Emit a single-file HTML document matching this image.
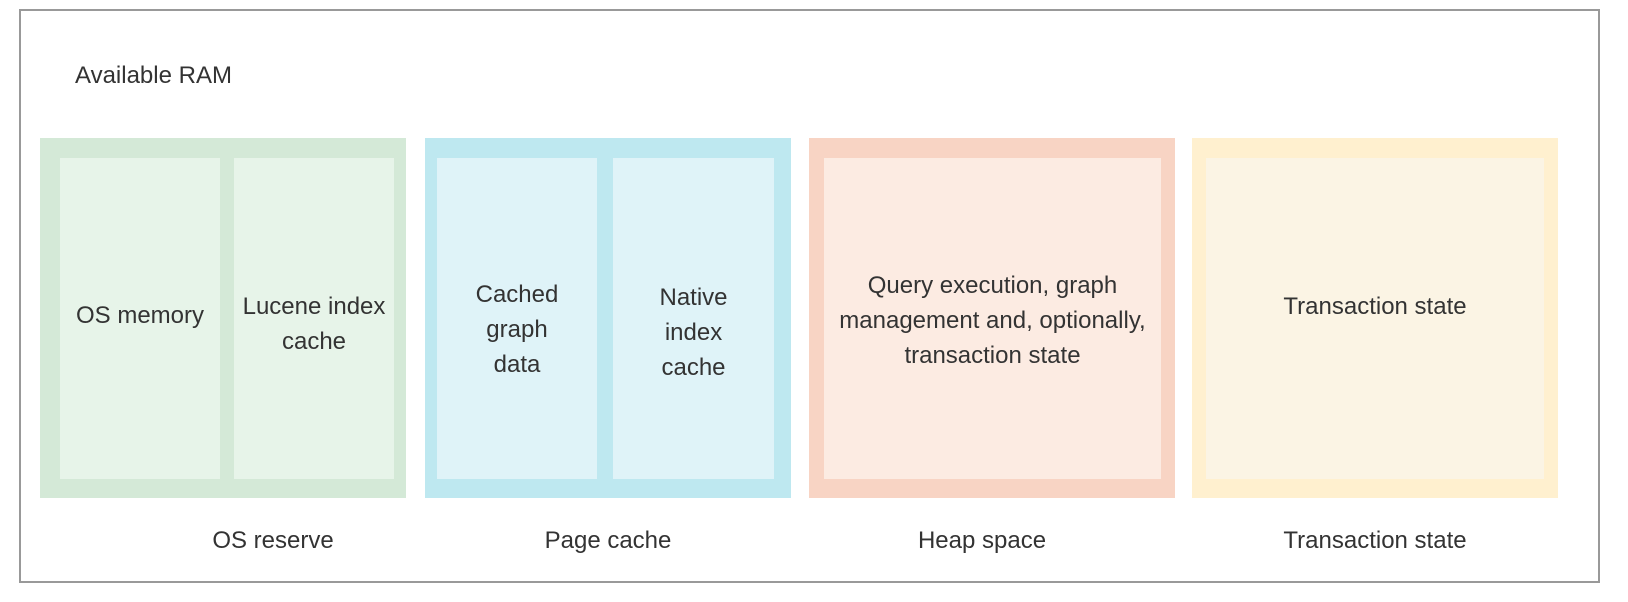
<!DOCTYPE html>
<html><head><style>
body{margin:0;width:1628px;height:602px;background:#fff;font-family:"Liberation Sans",sans-serif;color:#333;position:relative;overflow:hidden}
.a{position:absolute}
.frame{left:19px;top:9px;width:1581px;height:574px;border:2px solid #999;box-sizing:border-box}
.o{top:138px;height:360px;width:366px}
.i{top:158px;height:321px;display:flex;align-items:center;justify-content:center;text-align:center;font-size:24px;line-height:35px}
.i span{position:relative}
.lbl{top:527px;font-size:24px;text-align:center;width:366px}
</style></head><body>
<div class="a frame"></div>
<div class="a" style="left:75px;top:62px;font-size:24px">Available RAM</div>

<div class="a o" style="left:40px;background:#d4e9d7"></div>
<div class="a i" style="left:60px;width:160px;background:#e7f4e9"><span style="top:-3px">OS memory</span></div>
<div class="a i" style="left:234px;width:160px;background:#e7f4e9"><span style="top:5px">Lucene index<br>cache</span></div>

<div class="a o" style="left:425px;background:#bee8f0"></div>
<div class="a i" style="left:437px;width:160px;background:#dff3f8"><span style="top:11px">Cached<br>graph<br>data</span></div>
<div class="a i" style="left:613px;width:161px;background:#dff3f8"><span style="top:14px">Native<br>index<br>cache</span></div>

<div class="a o" style="left:809px;background:#f8d4c4"></div>
<div class="a i" style="left:824px;width:337px;background:#fcebe2"><span style="top:2px">Query execution, graph<br>management and, optionally,<br>transaction state</span></div>

<div class="a o" style="left:1192px;background:#fff0cf"></div>
<div class="a i" style="left:1206px;width:338px;background:#fbf4e4"><span style="top:-12px">Transaction state</span></div>

<div class="a lbl" style="left:90px">OS reserve</div>
<div class="a lbl" style="left:425px">Page cache</div>
<div class="a lbl" style="left:799px">Heap space</div>
<div class="a lbl" style="left:1192px">Transaction state</div>
</body></html>
